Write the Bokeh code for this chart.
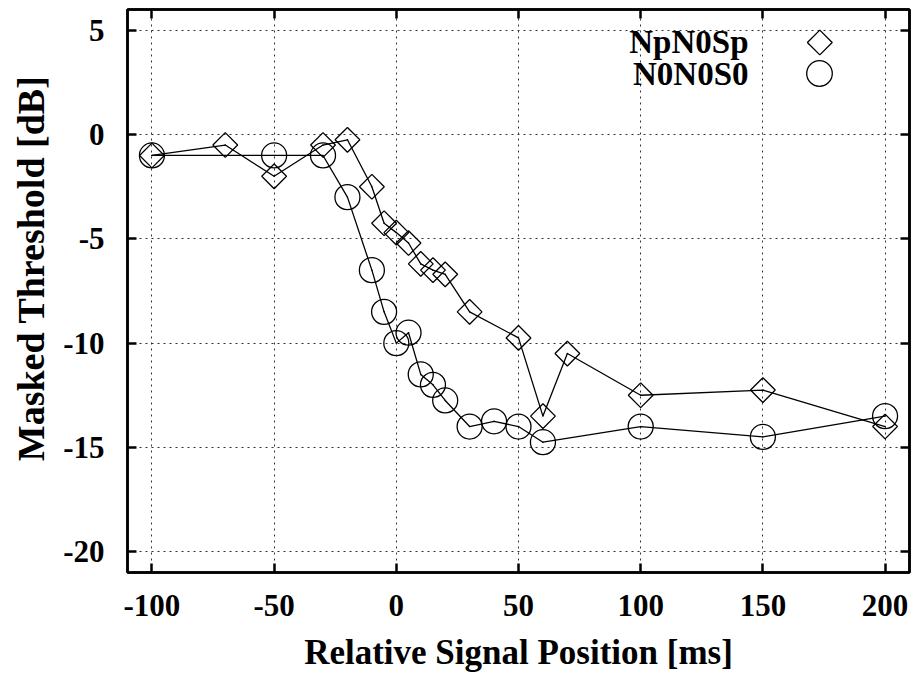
import math
from bokeh.plotting import figure
from bokeh.models import (Legend, LegendItem, Label, LinearAxis, FixedTicker, Title,
                          PolyAnnotation)
from bokeh.embed import file_html
from bokeh.resources import INLINE

# ---- data ----
np_x = [-100, -70, -50, -30, -20, -10, -5, 0, 5, 10, 15, 20, 30, 50, 60, 70, 100, 150, 200]
np_y = [-1, -0.5, -2, -0.5, -0.25, -2.5, -4.25, -4.7, -5.2, -6.2, -6.5, -6.7, -8.5, -9.75,
        -13.5, -10.5, -12.5, -12.25, -14]

n0_x = [-100, -50, -30, -20, -10, -5, 0, 5, 10, 15, 20, 30, 40, 50, 60, 100, 150, 200]
n0_y = [-1, -1, -1, -3, -6.5, -8.5, -10, -9.5, -11.5, -12, -12.75, -14, -13.75, -14,
        -14.75, -14, -14.5, -13.5]

x_ticks = [-100, -50, 0, 50, 100, 150, 200]
y_ticks = [-20, -15, -10, -5, 0, 5]
x_tick_labels = ["-100", "-50", "0", "50", "100", "150", "200"]
y_tick_labels = ["-20", "-15", "-10", "-5", "0", "5"]

series_names = ["NpN0Sp", "N0N0S0"]
x_title = "Relative Signal Position [ms]"
y_title = "Masked Threshold [dB]"

FONT = "Liberation Serif"

p = figure(width=911, height=675, x_range=(-110, 210), y_range=(-21, 6),
           output_backend="svg", toolbar_location=None,
           min_border_left=127, min_border_right=2, min_border_top=9, min_border_bottom=103)

p.background_fill_color = "white"
p.border_fill_color = "white"
p.outline_line_color = "black"
p.outline_line_width = 2.5

# grid
for g, t in ((p.xgrid[0], x_ticks), (p.ygrid[0], y_ticks)):
    g.ticker = FixedTicker(ticks=t)
    g.grid_line_color = "#333333"
    g.grid_line_width = 1
    g.grid_line_dash = "2 4"

def style_axis(ax, ticks, tick_labels=None):
    ax.ticker = FixedTicker(ticks=ticks)
    ax.major_tick_in = 9
    ax.major_tick_out = 0
    ax.minor_tick_in = 0
    ax.minor_tick_out = 0
    ax.major_tick_line_width = 2.5
    ax.major_tick_line_color = "black"
    ax.axis_line_width = 2.5
    ax.axis_line_color = "black"
    if tick_labels is not None:
        ax.major_label_overrides = {t: s for t, s in zip(ticks, tick_labels)}
        ax.major_label_text_font = FONT
        ax.major_label_text_font_style = "bold"
        ax.major_label_text_font_size = "31px"
        ax.major_label_text_color = "black"
    else:
        ax.major_label_text_font_size = "0px"
        ax.major_label_text_color = None
        ax.major_label_standoff = 0

xa = p.xaxis[0]
style_axis(xa, x_ticks, x_tick_labels)
xa.major_label_standoff = 22
xa.axis_label = x_title
xa.axis_label_text_font = FONT
xa.axis_label_text_font_style = "bold"
xa.axis_label_text_font_size = "35px"
xa.axis_label_text_color = "black"
xa.axis_label_standoff = 14

ya = p.yaxis[0]
style_axis(ya, y_ticks, y_tick_labels)
ya.major_label_standoff = 23

top = LinearAxis()
style_axis(top, x_ticks)
p.add_layout(top, "above")
right = LinearAxis()
style_axis(right, y_ticks)
p.add_layout(right, "right")

# y title (left side, shifted toward the top like the reference)
p.add_layout(Title(text=y_title, align="right", vertical_align="top", offset=66, standoff=14,
                   text_font=FONT, text_font_style="bold", text_font_size="38px",
                   text_color="black"), "left")

# series
p.line(np_x, np_y, line_color="black", line_width=1.3)
p.line(n0_x, n0_y, line_color="black", line_width=1.3)
r_d = p.scatter(np_x, np_y, marker="square", size=17.5, angle=math.pi / 4,
                fill_color=None, line_color="black", line_width=1.3)
r_c = p.scatter(n0_x, n0_y, marker="circle", size=25,
                fill_color=None, line_color="black", line_width=1.3)
p.scatter(np_x, np_y, marker="circle", size=1.5, fill_color="black", line_color=None)
p.scatter(n0_x, n0_y, marker="circle", size=1.5, fill_color="black", line_color=None)

# legend: text labels right-aligned, then samples
for name, yy in zip(series_names, (531, 499)):
    p.add_layout(Label(x=621, y=yy, x_units="screen", y_units="screen", text=name,
                       text_align="right", text_baseline="middle",
                       text_font=FONT, text_font_style="bold", text_font_size="33px",
                       text_color="black"))

# diamond sample (legend key) in screen units
cx, cy, h = 692.3, 530.0, 12.4
p.add_layout(PolyAnnotation(xs=[cx, cx + h, cx, cx - h], ys=[cy + h, cy, cy - h, cy],
                            xs_units="screen", ys_units="screen",
                            fill_color=None, fill_alpha=0,
                            line_color="black", line_alpha=1.0, line_width=1.3))

# circle sample via a legend
leg = Legend(items=[LegendItem(label=" ", renderers=[r_c])], location=(660, 467),
             glyph_width=64, glyph_height=64, label_width=0, label_height=0,
             label_standoff=0, label_text_font_size="1px", padding=0, spacing=0,
             margin=0, border_line_color=None, background_fill_alpha=0)
p.add_layout(leg)

open("out.html", "w").write(file_html(p, INLINE))
